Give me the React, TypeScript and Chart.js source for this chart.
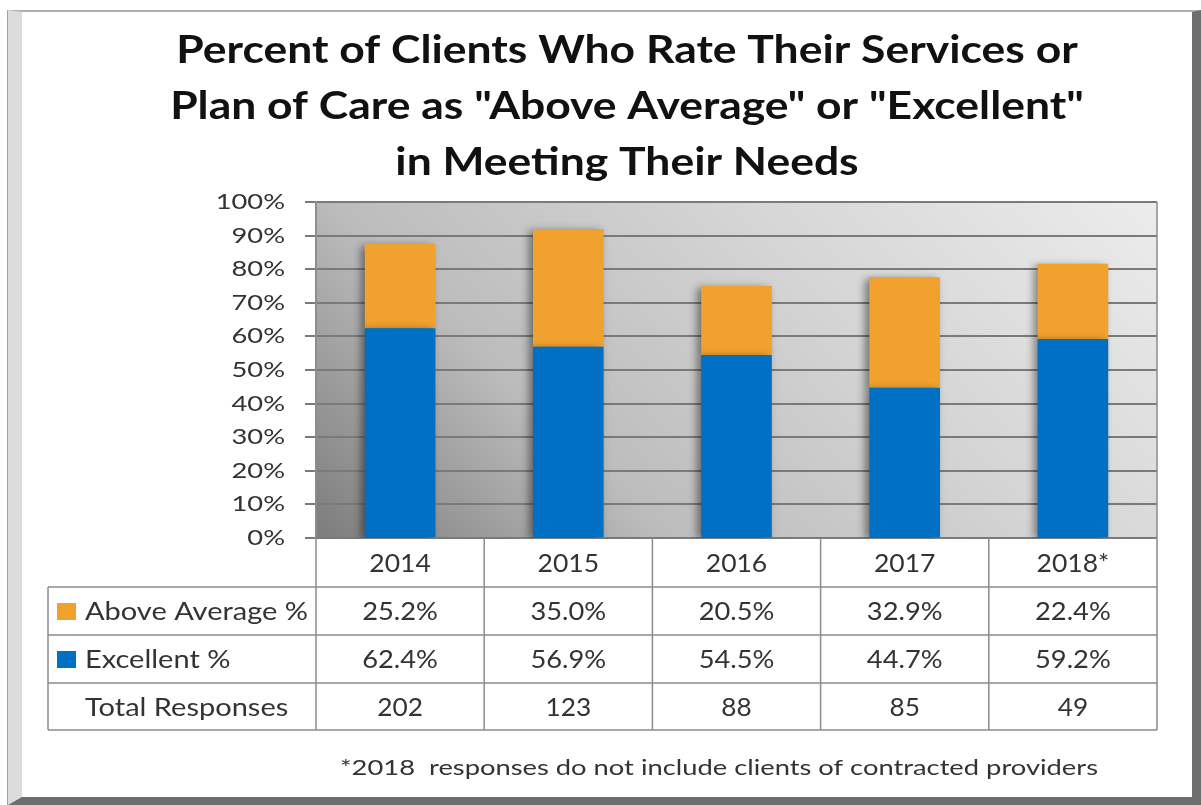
import React, { useEffect, useRef } from "react";
import { Chart, registerables } from "chart.js";

Chart.register(...registerables);

const years = ["2014", "2015", "2016", "2017", "2018*"];
const aboveAverage = [25.2, 35.0, 20.5, 32.9, 22.4];
const excellent = [62.4, 56.9, 54.5, 44.7, 59.2];
const totalResponses = [202, 123, 88, 85, 49];
const rowLabels = ["Above Average %", "Excellent %", "Total Responses"];
const titleLines = [
  "Percent of Clients Who Rate Their Services or",
  'Plan of Care as "Above Average" or "Excellent"',
  "in Meeting Their Needs",
];
const footnote = "*2018  responses do not include clients of contracted providers";

const ORANGE = "#F0A12E";
const BLUE = "#0070C4";
const TEXT = "#333333";
const LINE = "#8c8c8c";
const FONT = "Lato, 'Open Sans', sans-serif";

function stretchText(ctx: CanvasRenderingContext2D, text: string, x: number, y: number, align: CanvasTextAlign, sx: number) {
  ctx.save();
  ctx.translate(x, y);
  ctx.scale(sx, 1);
  ctx.textAlign = align;
  ctx.textBaseline = "middle";
  ctx.fillText(text, 0, 0);
  ctx.restore();
}

const bgPlugin = {
  id: "bgPlugin",
  beforeDraw(chart: any) {
    const { ctx, chartArea: a } = chart;
    ctx.save();
    const w = a.right - a.left;
    const h = a.bottom - a.top;
    const L = (w + h) / 2;
    const g = ctx.createLinearGradient(a.left, a.bottom, a.left + L, a.bottom - L);
    g.addColorStop(0, "#7c7c7c");
    g.addColorStop(0.3, "#bcbcbc");
    g.addColorStop(0.65, "#d6d6d6");
    g.addColorStop(1, "#ececec");
    ctx.fillStyle = g;
    ctx.fillRect(a.left, a.top, w, h);
    ctx.restore();
  },
  beforeDatasetsDraw(chart: any) {
    const ctx = chart.ctx;
    ctx.save();
    ctx.shadowColor = "rgba(0,0,0,0.45)";
    ctx.shadowBlur = 8;
    ctx.shadowOffsetX = -4;
    ctx.shadowOffsetY = 2;
  },
  afterDatasetsDraw(chart: any) {
    chart.ctx.restore();
  },
  afterDraw(chart: any) {
    const { ctx, chartArea: a } = chart;
    const xs = chart.scales.x;
    const ys = chart.scales.y;
    const n = years.length;
    const colW = (a.right - a.left) / n;
    const labelLeft = 26;
    const rows = [a.bottom, a.bottom + 49, a.bottom + 97, a.bottom + 145, a.bottom + 192];

    ctx.save();
    // title
    ctx.fillStyle = "#111";
    ctx.font = `bold 39px ${FONT}`;
    titleLines.forEach((t, i) => stretchText(ctx, t, 605, 38 + i * 56, "center", 1.14));

    // y tick labels
    ctx.fillStyle = TEXT;
    ctx.font = `22px ${FONT}`;
    ys.ticks.forEach((t: any) => {
      stretchText(ctx, `${t.value}%`, a.left - 31, ys.getPixelForValue(t.value), "right", 1.24);
    });

    // table lines
    ctx.strokeStyle = LINE;
    ctx.lineWidth = 1.5;
    ctx.beginPath();
    for (let r = 1; r < rows.length; r++) {
      ctx.moveTo(labelLeft, rows[r]);
      ctx.lineTo(a.right, rows[r]);
    }
    ctx.moveTo(labelLeft, rows[1]);
    ctx.lineTo(labelLeft, rows[4]);
    for (let k = 0; k <= n; k++) {
      const x = a.left + k * colW;
      ctx.moveTo(x, k === 0 || k === n ? a.top : a.bottom);
      ctx.lineTo(x, rows[4]);
    }
    ctx.stroke();

    // table text
    ctx.fillStyle = TEXT;
    ctx.font = `25px ${FONT}`;
    const rowVals = [
      aboveAverage.map((v) => v.toFixed(1) + "%"),
      excellent.map((v) => v.toFixed(1) + "%"),
      totalResponses.map((v) => String(v)),
    ];
    years.forEach((y, i) => {
      const cx = xs.getPixelForValue(i);
      stretchText(ctx, y, cx, (rows[0] + rows[1]) / 2 + 1, "center", 1.06);
      rowVals.forEach((vals, r) => {
        stretchText(ctx, vals[i], cx, (rows[r + 1] + rows[r + 2]) / 2 + 1, "center", r < 2 ? 1.09 : 1.05);
      });
    });
    rowLabels.forEach((lab, r) => {
      const cy = (rows[r + 1] + rows[r + 2]) / 2 + 1;
      ctx.fillStyle = TEXT;
      stretchText(ctx, lab, 63, cy, "left", 1.16);
      if (r < 2) {
        ctx.fillStyle = r === 0 ? ORANGE : BLUE;
        ctx.fillRect(35, cy - 9, 19, 17);
      }
    });

    // footnote
    ctx.fillStyle = TEXT;
    ctx.font = `21px ${FONT}`;
    const fw = ctx.measureText(footnote).width;
    stretchText(ctx, footnote, 697, 756, "center", 758 / fw);
    ctx.restore();
  },
};

export default function App() {
  const ref = useRef<HTMLCanvasElement | null>(null);
  useEffect(() => {
    if (!ref.current) return;
    const chart = new Chart(ref.current, {
      type: "bar",
      data: {
        labels: years,
        datasets: [
          { label: "Excellent %", data: excellent, backgroundColor: BLUE, borderWidth: 0 },
          { label: "Above Average %", data: aboveAverage, backgroundColor: ORANGE, borderWidth: 0 },
        ],
      },
      options: {
        animation: false,
        responsive: false,
        maintainAspectRatio: false,
        layout: { padding: { left: 184, right: 35, top: 190, bottom: 259 } },
        plugins: { legend: { display: false }, title: { display: false }, tooltip: { enabled: false } },
        datasets: { bar: { barPercentage: 0.42, categoryPercentage: 1 } },
        scales: {
          x: { stacked: true, display: false },
          y: {
            stacked: true,
            min: 0,
            max: 100,
            afterFit: (s: any) => {
              s.width = 110;
            },
            ticks: {
              display: false,
              stepSize: 10,
            },
            grid: { color: "#7a7a7a", lineWidth: 2, tickLength: 11, drawTicks: true },
            border: { display: true, color: LINE, width: 1.5 },
          },
        },
      },
      plugins: [bgPlugin],
    });
    return () => chart.destroy();
  }, []);

  return (
    <div
      style={{
        position: "fixed",
        left: 8,
        top: 10,
        width: 1193,
        height: 795,
        boxSizing: "border-box",
        background: "#fff",
        borderTop: "2px solid #b0b0b0",
        borderLeft: "14px solid #dcdcdc",
        borderRight: "9px solid #6e6e6e",
        borderBottom: "8px solid #6e6e6e",
        boxShadow: "-1px 0 0 #a0a0a0",
      }}
    >
      <canvas
        ref={ref}
        width={1170}
        height={785}
        style={{ position: "absolute", left: 0, top: 0, width: 1170, height: 785 }}
      />
    </div>
  );
}
